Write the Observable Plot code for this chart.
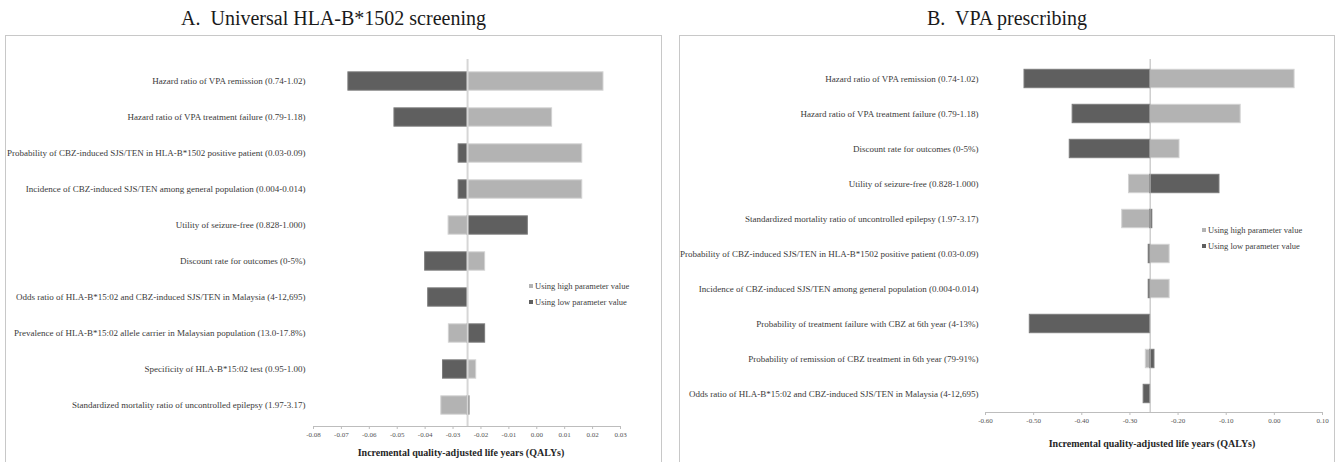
<!DOCTYPE html>
<html>
<head>
<meta charset="utf-8">
<script src="https://cdn.jsdelivr.net/npm/d3@7"></script>
<script src="https://cdn.jsdelivr.net/npm/@observablehq/plot@0.6"></script>
<style>
  body { margin: 0; background: #fff; font-family: "Liberation Serif", "Times New Roman", serif; }
  #wrap { position: relative; width: 1342px; height: 462px; overflow: hidden; background: #fff; }
  .title { position: absolute; top: 7px; height: 22px; line-height: 22px; font-size: 20px; color: #1a1a1a; text-align: center; white-space: pre; }
  .box { position: absolute; top: 35px; height: 440px; border: 1.5px solid #c8c8c8; box-sizing: border-box; }
  .chart { position: absolute; top: 36px; }
  .legend { position: absolute; font-size: 8.5px; color: #404040; line-height: 16px; white-space: nowrap; }
  .legend .sw { display: inline-block; width: 4px; height: 4px; margin-right: 2px; vertical-align: middle; position: relative; top: -1px; }
</style>
</head>
<body>
<div id="wrap"></div>
<script>
// ---------------- data ----------------
const titles = ["A.  Universal HLA-B*1502 screening", "B.  VPA prescribing"];
const axisTitle = "Incremental quality-adjusted life years (QALYs)";
const seriesNames = ["Using high parameter value", "Using low parameter value"];

const labelsA = [
  "Hazard ratio of VPA remission (0.74-1.02)",
  "Hazard ratio of VPA treatment failure (0.79-1.18)",
  "Probability of CBZ-induced SJS/TEN in HLA-B*1502 positive patient (0.03-0.09)",
  "Incidence of CBZ-induced SJS/TEN among general population (0.004-0.014)",
  "Utility of seizure-free (0.828-1.000)",
  "Discount rate for outcomes (0-5%)",
  "Odds ratio of HLA-B*15:02 and CBZ-induced SJS/TEN in Malaysia (4-12,695)",
  "Prevalence of HLA-B*15:02 allele carrier in Malaysian population (13.0-17.8%)",
  "Specificity of HLA-B*15:02 test (0.95-1.00)",
  "Standardized mortality ratio of uncontrolled epilepsy (1.97-3.17)"
];
const lowA  = [-0.0675, -0.0510, -0.0280, -0.0280, -0.0032, -0.0400, -0.0389, -0.0185, -0.0336, -0.0241];
const highA = [ 0.0239,  0.0055,  0.0163,  0.0163, -0.0316, -0.0185, -0.0248, -0.0315, -0.0217, -0.0342];
const baseA = -0.0248;
const ticksA = [-0.08, -0.07, -0.06, -0.05, -0.04, -0.03, -0.02, -0.01, 0.00, 0.01, 0.02, 0.03];

const labelsB = [
  "Hazard ratio of VPA remission (0.74-1.02)",
  "Hazard ratio of VPA treatment failure (0.79-1.18)",
  "Discount rate for outcomes (0-5%)",
  "Utility of seizure-free (0.828-1.000)",
  "Standardized mortality ratio of uncontrolled epilepsy (1.97-3.17)",
  "Probability of CBZ-induced SJS/TEN in HLA-B*1502 positive patient (0.03-0.09)",
  "Incidence of CBZ-induced SJS/TEN among general population (0.004-0.014)",
  "Probability of treatment failure with CBZ at 6th year (4-13%)",
  "Probability of remission of CBZ treatment in 6th year (79-91%)",
  "Odds ratio of HLA-B*15:02 and CBZ-induced SJS/TEN in Malaysia (4-12,695)"
];
const lowB  = [-0.519, -0.419, -0.425, -0.114, -0.2535, -0.261, -0.261, -0.508, -0.249, -0.2715];
const highB = [ 0.042, -0.070, -0.197, -0.302, -0.316, -0.2176, -0.2176, -0.258, -0.267, -0.258];
const baseB = -0.258;
const ticksB = [-0.60, -0.50, -0.40, -0.30, -0.20, -0.10, 0.00, 0.10];

// ---------------- styles ----------------
const DARK = "#5f5f5f", DARK_EDGE = "#7c7c7c";
const LIGHT = "#b3b3b3", LIGHT_EDGE = "#d2d2d2";

function tornado(cfg) {
  const {labels, low, high, base, ticks, width, height, marginLeft, marginRight,
         marginTop, marginBottom, barH, tickPadding, titleDx, titleDy, ruleColor, ruleWidth} = cfg;
  const rows = labels.flatMap((p, i) => [
    {p, s: "high", v: high[i]},
    {p, s: "low", v: low[i]}
  ]);
  const step = (height - marginTop - marginBottom) / labels.length;
  const inset = (step - barH) / 2;
  const fmt = d => d.toFixed(2);
  return Plot.plot({
    width, height, marginLeft, marginRight, marginTop, marginBottom,
    style: {fontFamily: "'Liberation Serif', 'Times New Roman', serif", background: "transparent", overflow: "visible"},
    x: {domain: [ticks[0], ticks[ticks.length - 1]]},
    y: {domain: labels, padding: 0},
    marks: [
      Plot.barX(rows, {filter: d => d.s === "high", y: "p", x1: () => base, x2: "v",
        fill: LIGHT, stroke: LIGHT_EDGE, strokeWidth: 1, insetTop: inset, insetBottom: inset}),
      Plot.barX(rows, {filter: d => d.s === "low", y: "p", x1: () => base, x2: "v",
        fill: DARK, stroke: DARK_EDGE, strokeWidth: 1, insetTop: inset, insetBottom: inset}),
      Plot.ruleX([base], {stroke: ruleColor, strokeWidth: ruleWidth}),
      Plot.axisY({tickSize: 0, tickPadding, fontSize: 9, fill: "#3a3a3a", label: null}),
      Plot.axisX({ticks, tickFormat: fmt, tickSize: 3, tickPadding: 3, fontSize: 7,
        stroke: "#bdbdbd", fill: "#555", label: null}),
      (index, scales, values, dims) => {
        const y = dims.height - dims.marginBottom + 0.5;
        return d3.create("svg:line")
          .attr("x1", scales.x(ticks[0])).attr("x2", scales.x(ticks[ticks.length - 1]))
          .attr("y1", y).attr("y2", y)
          .attr("stroke", "#bdbdbd").attr("stroke-width", 1).node();
      },
      Plot.text([axisTitle], {frameAnchor: "bottom", dx: titleDx, dy: titleDy, lineAnchor: "middle",
        fontWeight: "bold", fontSize: 10, fill: "#262626"})
    ]
  });
}

const wrap = document.getElementById("wrap");
function addDiv(cls, css, html) {
  const d = document.createElement("div");
  d.className = cls;
  Object.assign(d.style, css);
  if (html != null) d.innerHTML = html;
  wrap.appendChild(d);
  return d;
}

// Panel boxes and titles
addDiv("box", {left: "5px", width: "657px"});
addDiv("box", {left: "679px", width: "656px"});
addDiv("title", {left: "5px", width: "657px"}).textContent = titles[0];
addDiv("title", {left: "679px", width: "656px"}).textContent = titles[1];

const chartA = tornado({
  labels: labelsA, low: lowA, high: highA, base: baseA, ticks: ticksA,
  width: 654, height: 426, marginLeft: 307, marginRight: 40, marginTop: 23, marginBottom: 36,
  barH: 19, tickPadding: 8, titleDx: -6, titleDy: 26, ruleColor: "#d6d6d6", ruleWidth: 2
});
const cA = addDiv("chart", {left: "6px"});
cA.appendChild(chartA);

const chartB = tornado({
  labels: labelsB, low: lowB, high: highB, base: baseB, ticks: ticksB,
  width: 653, height: 426, marginLeft: 305, marginRight: 11, marginTop: 23, marginBottom: 50,
  barH: 18.7, tickPadding: 7, titleDx: -2, titleDy: 31, ruleColor: "#b5b5b5", ruleWidth: 1
});
const cB = addDiv("chart", {left: "680px"});
cB.appendChild(chartB);

// Legends
function legend(left, top) {
  const html = `<div><span class="sw" style="background:${LIGHT}"></span>${seriesNames[0]}</div>` +
               `<div><span class="sw" style="background:${DARK}"></span>${seriesNames[1]}</div>`;
  addDiv("legend", {left: left + "px", top: top + "px"}, html);
}
legend(529, 278);
legend(1202, 222);
</script>
</body>
</html>
